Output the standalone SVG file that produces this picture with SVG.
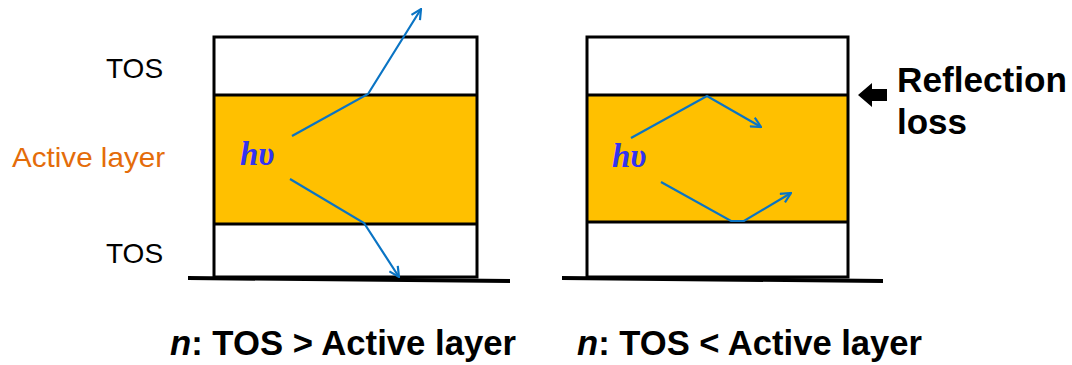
<svg xmlns="http://www.w3.org/2000/svg" width="1072" height="365" viewBox="0 0 1072 365">
<style>
.box{fill:none;stroke:#000;stroke-width:3}
.base{fill:none;stroke:#000;stroke-width:4}
.act{fill:#FFC000;stroke:none}
.ray{fill:none;stroke:#0A74C4;stroke-width:2.2}
.lbl{font-family:"Liberation Sans",Arial,sans-serif;font-size:28px;fill:#000}
.hv{font-family:"Liberation Serif","Times New Roman",serif;font-size:33px;font-weight:bold;font-style:italic;fill:#3333F0}
.big{font-family:"Liberation Sans",Arial,sans-serif;font-size:35px;font-weight:bold;fill:#000}
</style>
<defs>
<marker id="ah" viewBox="0 0 12 12" refX="11" refY="6" markerWidth="12" markerHeight="12" markerUnits="userSpaceOnUse" orient="auto">
<path d="M1,1 L11,6 L1,11" fill="none" stroke="#0A74C4" stroke-width="2.2"/>
</marker>
</defs>
<g id="labels">
<text class="lbl" x="106" y="78">TOS</text>
<text class="lbl" x="12" y="167" style="fill:#E46C0A" textLength="153" lengthAdjust="spacingAndGlyphs">Active layer</text>
<text class="lbl" x="106" y="263">TOS</text>
</g>
<g id="stack-left">
<rect class="act" x="214" y="95" width="263" height="129"/>
<rect class="box" x="214" y="37" width="263" height="240"/>
<line class="box" x1="214" y1="95" x2="477" y2="95"/>
<line class="box" x1="214" y1="224" x2="477" y2="224"/>
<line class="base" x1="188" y1="278" x2="510" y2="281"/>
<text class="hv" x="240" y="165">hυ</text>
</g>
<g id="stack-right">
<rect class="act" x="587" y="95" width="261" height="127"/>
<rect class="box" x="587" y="37" width="261" height="240"/>
<line class="box" x1="587" y1="95" x2="848" y2="95"/>
<line class="box" x1="587" y1="222" x2="848" y2="222"/>
<line class="base" x1="562" y1="278" x2="883" y2="281"/>
<text class="hv" x="612" y="167">hυ</text>
</g>
<g id="connectors">
<polyline class="ray" points="292,136 368,94 421,9" marker-end="url(#ah)"/>
<polyline class="ray" points="290,179 364,223 399,277" marker-end="url(#ah)"/>
<polyline class="ray" points="631,138 707,96 761,127" marker-end="url(#ah)"/>
<polyline class="ray" points="661,182 731,221 744,221 791,193" marker-end="url(#ah)"/>
</g>
<g id="reflection-loss">
<path d="M858,95 L872,83 L872,89 L887,89 L887,101 L872,101 L872,107 Z" fill="#000"/>
<text class="big" x="897" y="92" textLength="170" lengthAdjust="spacingAndGlyphs">Reflection</text>
<text class="big" x="897" y="134">loss</text>
</g>
<g id="captions">
<text class="big" x="170" y="355" textLength="346" lengthAdjust="spacingAndGlyphs"><tspan font-style="italic">n</tspan>: TOS &gt; Active layer</text>
<text class="big" x="577" y="355" textLength="345" lengthAdjust="spacingAndGlyphs"><tspan font-style="italic">n</tspan>: TOS &lt; Active layer</text>
</g>
</svg>
